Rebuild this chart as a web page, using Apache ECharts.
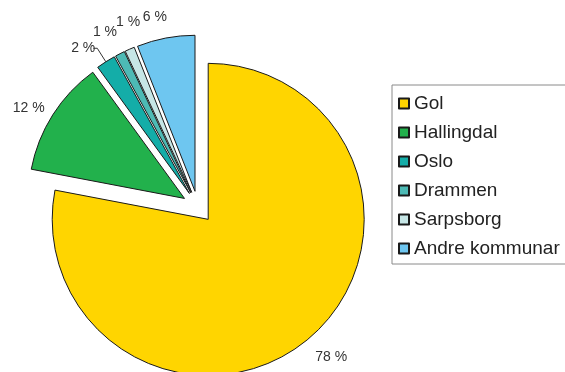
<!DOCTYPE html>
<html>
<head>
<meta charset="utf-8">
<script src="https://cdn.jsdelivr.net/npm/echarts@6/dist/echarts.min.js"></script>
<style>
  html, body { margin: 0; padding: 0; background: #fff; }
  #chart { width: 565px; height: 372px; }
</style>
</head>
<body>
<div id="chart"></div>
<script>
  // kommunar og delar i prosent
  var names = ['Gol', 'Hallingdal', 'Oslo', 'Drammen', 'Sarpsborg', 'Andre kommunar'];
  var values = [78, 12, 2, 1, 1, 6];
  var colors = ['#FFD500', '#22B14C', '#14ADA8', '#4DBAB5', '#C6E6E6', '#6EC6F0'];

  // label placement tweaks per slice
  var lineLen = [23, 12, 16, 24, 29, 21];
  var lineLen2 = [0, 0, 4, 0, 0, 0];
  var labelDist = [-7, -2, -2, -8, -22, -5];

  var chart = echarts.init(document.getElementById('chart'));

  var data = names.map(function (n, i) {
    return {
      name: n,
      value: values[i],
      selected: true,
      itemStyle: { color: colors[i] },
      label: { distanceToLabelLine: labelDist[i] },
      labelLine: { show: i === 2, length: lineLen[i], length2: lineLen2[i] }
    };
  });

  var option = {
    backgroundColor: '#fff',
    animation: false,
    legend: {
      orient: 'vertical',
      left: 392,
      top: 85,
      padding: [9, 40, 6, 6],
      itemWidth: 10,
      itemHeight: 10,
      itemGap: 10,
      itemTextGap: 11,
      borderColor: '#8a8a8a',
      borderWidth: 1,
      icon: 'rect',
      selectedMode: false,
      textStyle: { fontFamily: 'Liberation Sans', fontSize: 19, color: '#222', lineHeight: 18 },
      data: names
    },
    series: [{
      type: 'pie',
      center: [198, 207],
      radius: 156,
      startAngle: 90,
      clockwise: true,
      selectedMode: 'multiple',
      selectedOffset: 16,
      avoidLabelOverlap: false,
      labelLayout: { hideOverlap: false },
      emphasis: { scale: false },
      itemStyle: { borderColor: '#1a1a1a', borderWidth: 1 },
      label: {
        position: 'outside',
        formatter: '{c} %',
        fontFamily: 'Liberation Sans',
        fontSize: 14,
        color: '#333'
      },
      labelLine: { lineStyle: { color: '#333', width: 1 }, smooth: false },
      data: data
    }]
  };

  chart.setOption(option);
</script>
</body>
</html>
